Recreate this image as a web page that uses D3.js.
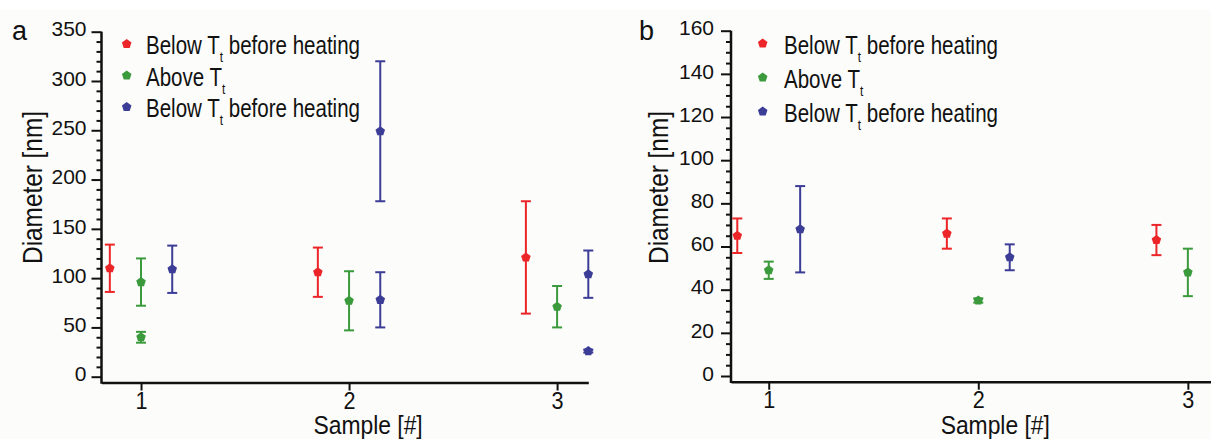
<!DOCTYPE html>
<html>
<head>
<meta charset="utf-8">
<script src="https://cdn.jsdelivr.net/npm/d3@7"></script>
<style>
  html, body { margin: 0; padding: 0; background: #ffffff; }
  svg { display: block; font-family: "Liberation Sans", Arial, Helvetica, sans-serif; }
</style>
</head>
<body>
<svg id="fig" width="1211" height="439"></svg>
<script>
// ---- data ----------------------------------------------------------------
const sampleTicks = [1, 2, 3];

// legend entries, split around the subscript "t"
const legendHead = ["Below T", "Above T", "Below T"];
const legendSub  = ["t", "t", "t"];
const legendTail = [" before heating", "", " before heating"];

// panel a: diameters (nm), mean and error per point
const aRedSample   = [1, 2, 3];
const aRedMean     = [110, 106, 121];
const aRedErr      = [24, 25, 57];
const aGreenSample = [1, 1, 2, 3];
const aGreenMean   = [96, 40, 77, 71];
const aGreenErr    = [24, 5.5, 30, 21];
const aBlueSample  = [1, 2, 2, 3, 3];
const aBlueMean    = [109, 78, 249, 104, 26];
const aBlueErr     = [24, 28, 71, 24, 1.5];
const aYTicks      = [0, 50, 100, 150, 200, 250, 300, 350];

// panel b: diameters (nm), mean and error per point
const bRedSample   = [1, 2, 3];
const bRedMean     = [65, 66, 63];
const bRedErr      = [8, 7, 7];
const bGreenSample = [1, 2, 3];
const bGreenMean   = [49, 35, 48];
const bGreenErr    = [4, 1, 11];
const bBlueSample  = [1, 2];
const bBlueMean    = [68, 55];
const bBlueErr     = [20, 6];
const bYTicks      = [0, 20, 40, 60, 80, 100, 120, 140, 160];

// ---- styles ---------------------------------------------------------------
const seriesColors  = ["#ec2529", "#3a9a3c", "#3c3d97"];
const seriesOffsets = [-0.15, 0, 0.15];
const ink = "#111111";

const svg = d3.select("#fig");
svg.append("rect").attr("x", 0).attr("y", 10).attr("width", 1211).attr("height", 429)
  .attr("fill", "#fcfcfa");

function toPoints(samples, means, errs) {
  return samples.map((s, i) => ({ sample: s, mean: means[i], err: errs[i] }));
}

const pentagon = {
  draw(ctx, size) {
    const r = Math.sqrt(size / (2.5 * Math.sin(2 * Math.PI / 5)));
    for (let i = 0; i < 5; i++) {
      const a = -Math.PI / 2 + i * 2 * Math.PI / 5;
      const px = r * Math.cos(a), py = r * Math.sin(a);
      if (i === 0) ctx.moveTo(px, py); else ctx.lineTo(px, py);
    }
    ctx.closePath();
  }
};
const markerPath = d3.symbol().type(pentagon).size(60);

function drawPanel(p) {
  const g = svg.append("g");
  const x = d3.scaleLinear().domain(p.xDomain).range([p.left, p.right]);
  const y = d3.scaleLinear().domain([0, p.yMax]).range([p.zeroY, p.topY]);

  // minor ticks on the y axis
  const yMinor = d3.range(0, p.yMax + 1e-9, p.minorStep).filter(v => !p.yTicks.includes(v));
  const minorAx = g.append("g").attr("transform", `translate(${p.left},0)`)
    .call(d3.axisLeft(y).tickValues(yMinor).tickSize(5).tickFormat(""));
  minorAx.select(".domain").remove();
  minorAx.selectAll("line").attr("stroke", ink).attr("stroke-width", 2);

  // major ticks and labels on the y axis
  const yAx = g.append("g").attr("transform", `translate(${p.left},0)`)
    .call(d3.axisLeft(y).tickValues(p.yTicks).tickSize(10).tickPadding(p.yPad));
  yAx.select(".domain").remove();
  yAx.selectAll("line").attr("stroke", ink).attr("stroke-width", 2);
  yAx.selectAll("text").attr("font-size", 21).attr("fill", ink)
    .attr("font-family", "Liberation Sans, Arial, sans-serif").attr("dy", "0.2em");

  // y axis line runs down to the x axis
  g.append("line")
    .attr("x1", p.left).attr("x2", p.left)
    .attr("y1", p.topY).attr("y2", p.axisY + 1.2)
    .attr("stroke", ink).attr("stroke-width", 2.5);

  // x axis
  const xAx = g.append("g").attr("transform", `translate(0,${p.axisY})`)
    .call(d3.axisBottom(x).tickValues(sampleTicks).tickSize(8).tickPadding(2)
      .tickSizeOuter(0).tickFormat(d3.format("d")));
  xAx.select(".domain").attr("stroke", ink).attr("stroke-width", 2.5);
  xAx.selectAll("line").attr("stroke", ink).attr("stroke-width", 2);
  xAx.selectAll("text").attr("font-size", 23).attr("fill", ink)
    .attr("font-family", "Liberation Sans, Arial, sans-serif")
    .attr("transform", "scale(0.94,1)");

  // axis titles
  g.append("text")
    .attr("transform", `translate(${p.yTitleX},187.5) rotate(-90) scale(0.87,1)`)
    .attr("text-anchor", "middle").attr("font-size", 28).attr("fill", ink)
    .text("Diameter [nm]");
  g.append("text")
    .attr("transform", `translate(${x(2) + p.xTitleShift},433.5) scale(0.88,1)`)
    .attr("text-anchor", "middle").attr("font-size", 26).attr("fill", ink)
    .text("Sample [#]");

  // panel letter
  g.append("text").attr("x", p.letterX).attr("y", 40)
    .attr("font-size", 27).attr("fill", ink).text(p.letter);

  // series: error bars and markers
  p.series.forEach((pts, si) => {
    const color = seriesColors[si];
    const sg = g.append("g");
    const bars = sg.selectAll("g.bar").data(pts).join("g").attr("class", "bar");
    const cx = d => x(d.sample + seriesOffsets[si]);
    bars.append("line")
      .attr("x1", cx).attr("x2", cx)
      .attr("y1", d => y(d.mean - d.err)).attr("y2", d => y(d.mean + d.err))
      .attr("stroke", color).attr("stroke-width", 2);
    [-1, 1].forEach(sgn => {
      bars.append("line")
        .attr("x1", d => cx(d) - 5).attr("x2", d => cx(d) + 5)
        .attr("y1", d => y(d.mean + sgn * d.err)).attr("y2", d => y(d.mean + sgn * d.err))
        .attr("stroke", color).attr("stroke-width", 2);
    });
    bars.append("path")
      .attr("d", markerPath)
      .attr("transform", d => `translate(${cx(d)},${y(d.mean)})`)
      .attr("fill", color);
  });

  // legend
  legendHead.forEach((head, i) => {
    const base = p.legendY + i * p.legendStep;
    g.append("path").attr("d", markerPath)
      .attr("transform", `translate(${p.legendMarkerX},${base - 10})`)
      .attr("fill", seriesColors[i]);
    const t = g.append("text")
      .attr("transform", `translate(${p.legendTextX},${base}) scale(0.79,1)`)
      .attr("font-size", 26).attr("fill", ink);
    t.append("tspan").text(head);
    t.append("tspan").attr("font-size", 15).attr("dy", 8).text(legendSub[i]);
    if (legendTail[i]) t.append("tspan").attr("dy", -8).text(legendTail[i]);
  });
}

drawPanel({
  letter: "a", letterX: 12,
  left: 101.5, right: 588.3, xDomain: [0.81, 3.15],
  yMax: 350, zeroY: 376.7, topY: 31.7, axisY: 382.5,
  yTicks: aYTicks, minorStep: 10, yPad: 5,
  yTitleX: 41.5, xTitleShift: 19,
  legendMarkerX: 126.7, legendTextX: 146, legendY: 54, legendStep: 31.5,
  series: [
    toPoints(aRedSample, aRedMean, aRedErr),
    toPoints(aGreenSample, aGreenMean, aGreenErr),
    toPoints(aBlueSample, aBlueMean, aBlueErr)
  ]
});

drawPanel({
  letter: "b", letterX: 639,
  left: 731, right: 1219.3, xDomain: [0.82, 3.15],
  yMax: 160, zeroY: 376, topY: 30.7, axisY: 381.7,
  yTicks: bYTicks, minorStep: 5, yPad: 7,
  yTitleX: 668, xTitleShift: 17,
  legendMarkerX: 762.7, legendTextX: 784, legendY: 53.5, legendStep: 34,
  series: [
    toPoints(bRedSample, bRedMean, bRedErr),
    toPoints(bGreenSample, bGreenMean, bGreenErr),
    toPoints(bBlueSample, bBlueMean, bBlueErr)
  ]
});
</script>
</body>
</html>
